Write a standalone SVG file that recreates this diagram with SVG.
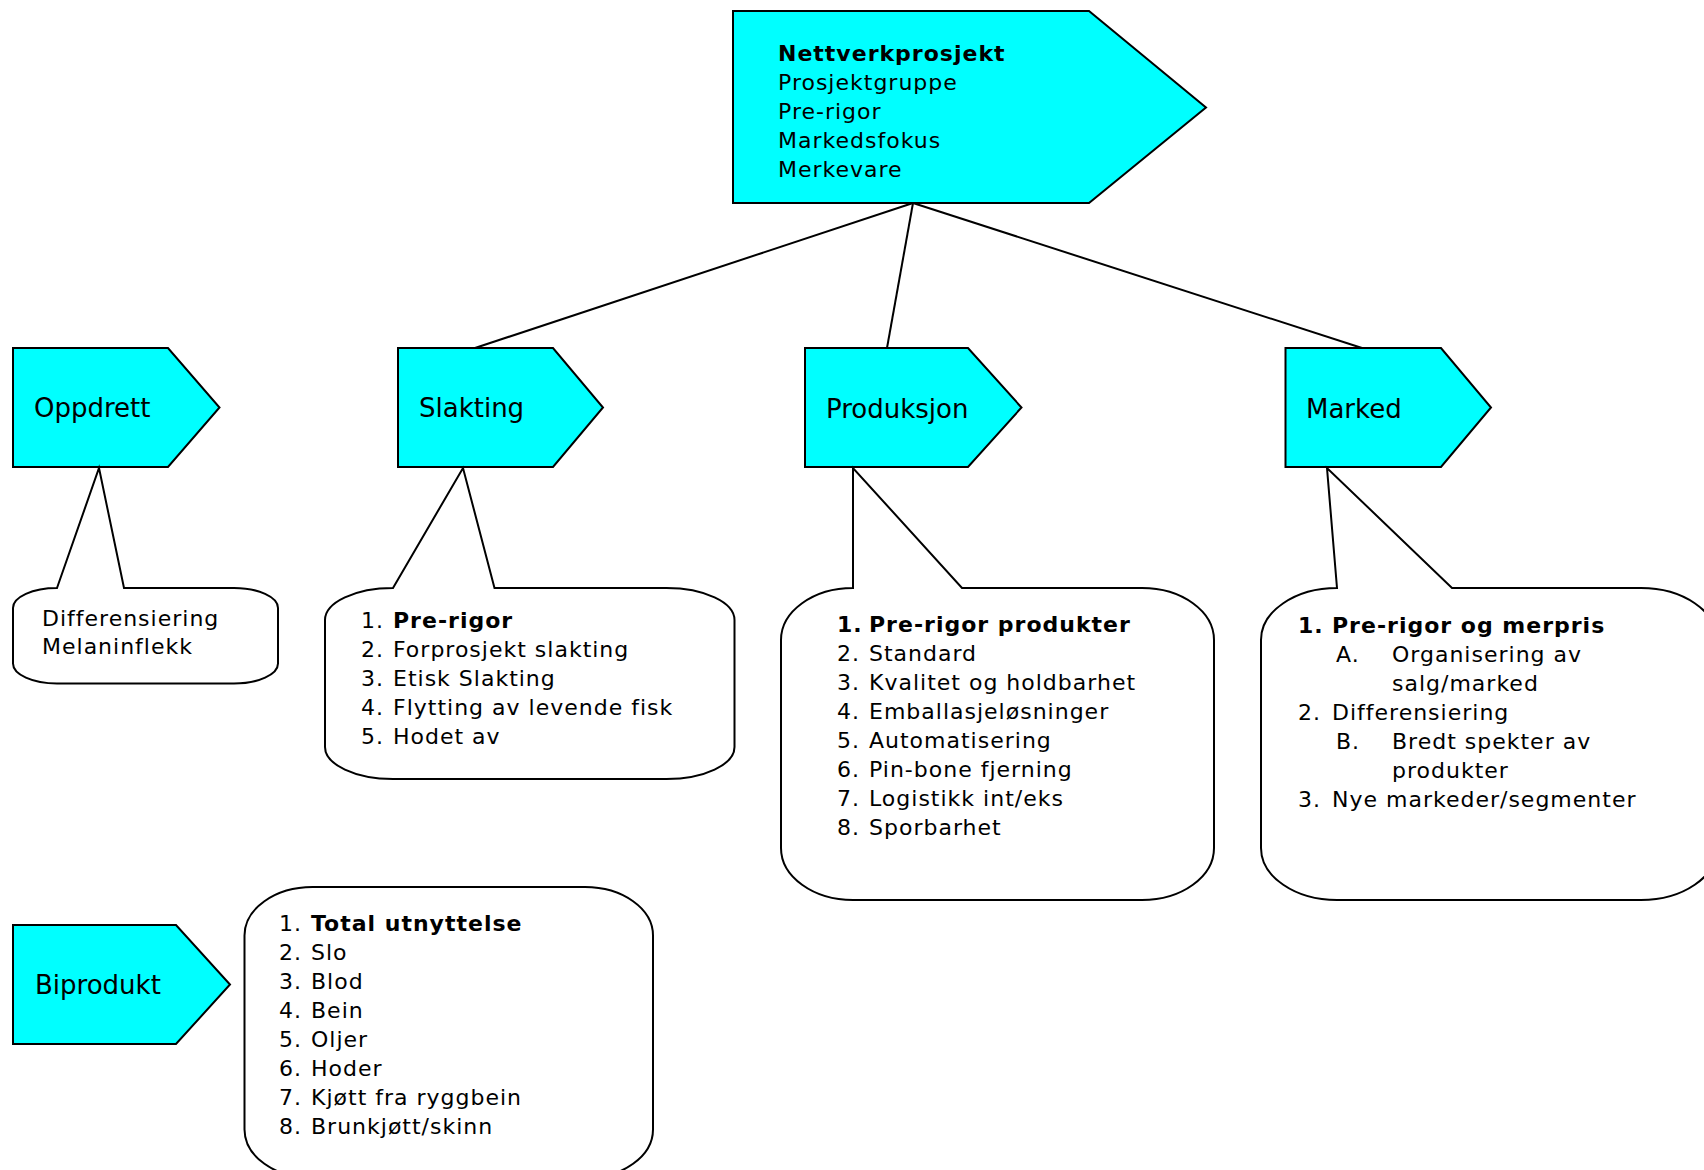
<svg xmlns="http://www.w3.org/2000/svg" width="1704" height="1170" viewBox="0 0 1704 1170">
<style>
.node{fill:#00FFFF;stroke:#000;stroke-width:2;stroke-linejoin:miter}
.bubble{fill:#fff;stroke:#000;stroke-width:2}
.conn{stroke:#000;stroke-width:2;fill:none}
text{font-family:"DejaVu Sans",Verdana,sans-serif;font-size:22px;letter-spacing:1px;fill:#000}
text.h{font-size:26px;letter-spacing:0}
.b{font-weight:bold}
</style>
<rect width="1704" height="1170" fill="#fff"/>
<g id="connectors">
<path class="conn" d="M913,203 L475,348"/>
<path class="conn" d="M913,203 L887,348"/>
<path class="conn" d="M913,203 L1362,348"/>
</g>
<g id="nettverkprosjekt">
<polygon class="node" points="733,11 1089,11 1206,107.5 1089,203 733,203"/>
<text x="778" y="61" class="b">Nettverkprosjekt</text>
<text x="778" y="90">Prosjektgruppe</text>
<text x="778" y="119">Pre-rigor</text>
<text x="778" y="148">Markedsfokus</text>
<text x="778" y="177">Merkevare</text>
</g>
<g id="oppdrett">
<polygon class="node" points="13,348 168,348 219.5,407.5 168,467 13,467"/>
<text class="h" x="34" y="417">Oppdrett</text>
</g>
<g id="oppdrett-notes">
<path class="bubble" d="M57,588 L99,468 L124,588 L234,588 A44 20 0 0 1 278,608 L278,663.5 A44 20 0 0 1 234,683.5 L57,683.5 A44 20 0 0 1 13,663.5 L13,608 A44 20 0 0 1 57,588 Z"/>
<text x="42" y="626">Differensiering</text>
<text x="42" y="654">Melaninflekk</text>
</g>
<g id="slakting">
<polygon class="node" points="398,348 553,348 603,407.5 553,467 398,467"/>
<text class="h" x="419" y="417">Slakting</text>
</g>
<g id="slakting-notes">
<path class="bubble" d="M393,588 L463,468 L494.5,588 L666.5,588 A68 32 0 0 1 734.5,620 L734.5,747 A68 32 0 0 1 666.5,779 L393,779 A68 32 0 0 1 325,747 L325,620 A68 32 0 0 1 393,588 Z"/>
<text y="628"><tspan x="361">1.</tspan><tspan x="393" class="b">Pre-rigor</tspan></text>
<text y="657"><tspan x="361">2.</tspan><tspan x="393">Forprosjekt slakting</tspan></text>
<text y="686"><tspan x="361">3.</tspan><tspan x="393">Etisk Slakting</tspan></text>
<text y="715"><tspan x="361">4.</tspan><tspan x="393">Flytting av levende fisk</tspan></text>
<text y="744"><tspan x="361">5.</tspan><tspan x="393">Hodet av</tspan></text>
</g>
<g id="produksjon">
<polygon class="node" points="805,348 968,348 1021.5,407.5 968,467 805,467"/>
<text class="h" x="826" y="418">Produksjon</text>
</g>
<g id="produksjon-notes">
<path class="bubble" d="M853,588 L853,468 L962,588 L1142,588 A72 52 0 0 1 1214,640 L1214,848 A72 52 0 0 1 1142,900 L853,900 A72 52 0 0 1 781,848 L781,640 A72 52 0 0 1 853,588 Z"/>
<text y="632" class="b"><tspan x="837">1.</tspan><tspan x="869">Pre-rigor produkter</tspan></text>
<text y="661"><tspan x="837">2.</tspan><tspan x="869">Standard</tspan></text>
<text y="690"><tspan x="837">3.</tspan><tspan x="869">Kvalitet og holdbarhet</tspan></text>
<text y="719"><tspan x="837">4.</tspan><tspan x="869">Emballasjeløsninger</tspan></text>
<text y="748"><tspan x="837">5.</tspan><tspan x="869">Automatisering</tspan></text>
<text y="777"><tspan x="837">6.</tspan><tspan x="869">Pin-bone fjerning</tspan></text>
<text y="806"><tspan x="837">7.</tspan><tspan x="869">Logistikk int/eks</tspan></text>
<text y="835"><tspan x="837">8.</tspan><tspan x="869">Sporbarhet</tspan></text>
</g>
<g id="marked">
<polygon class="node" points="1285.5,348 1441,348 1491,407.5 1441,467 1285.5,467"/>
<text class="h" x="1306" y="418">Marked</text>
</g>
<g id="marked-notes">
<path class="bubble" d="M1337,588 L1327,468 L1452,588 L1641,588 A76 52 0 0 1 1717,640 L1717,848 A76 52 0 0 1 1641,900 L1337,900 A76 52 0 0 1 1261,848 L1261,640 A76 52 0 0 1 1337,588 Z"/>
<text y="633" class="b"><tspan x="1298">1.</tspan><tspan x="1332">Pre-rigor og merpris</tspan></text>
<text y="662"><tspan x="1336">A.</tspan><tspan x="1392">Organisering av</tspan></text>
<text y="691" x="1392">salg/marked</text>
<text y="720"><tspan x="1298">2.</tspan><tspan x="1332">Differensiering</tspan></text>
<text y="749"><tspan x="1336">B.</tspan><tspan x="1392">Bredt spekter av</tspan></text>
<text y="778" x="1392">produkter</text>
<text y="807"><tspan x="1298">3.</tspan><tspan x="1332">Nye markeder/segmenter</tspan></text>
</g>
<g id="biprodukt">
<polygon class="node" points="13,925 176,925 230,984.5 176,1044 13,1044"/>
<text class="h" x="35" y="994">Biprodukt</text>
</g>
<g id="biprodukt-notes">
<rect class="bubble" x="244.5" y="887" width="408.5" height="291" rx="68" ry="48.5"/>
<text y="931"><tspan x="279">1.</tspan><tspan x="311" class="b">Total utnyttelse</tspan></text>
<text y="960"><tspan x="279">2.</tspan><tspan x="311">Slo</tspan></text>
<text y="989"><tspan x="279">3.</tspan><tspan x="311">Blod</tspan></text>
<text y="1018"><tspan x="279">4.</tspan><tspan x="311">Bein</tspan></text>
<text y="1047"><tspan x="279">5.</tspan><tspan x="311">Oljer</tspan></text>
<text y="1076"><tspan x="279">6.</tspan><tspan x="311">Hoder</tspan></text>
<text y="1105"><tspan x="279">7.</tspan><tspan x="311">Kjøtt fra ryggbein</tspan></text>
<text y="1134"><tspan x="279">8.</tspan><tspan x="311">Brunkjøtt/skinn</tspan></text>
</g>
</svg>
